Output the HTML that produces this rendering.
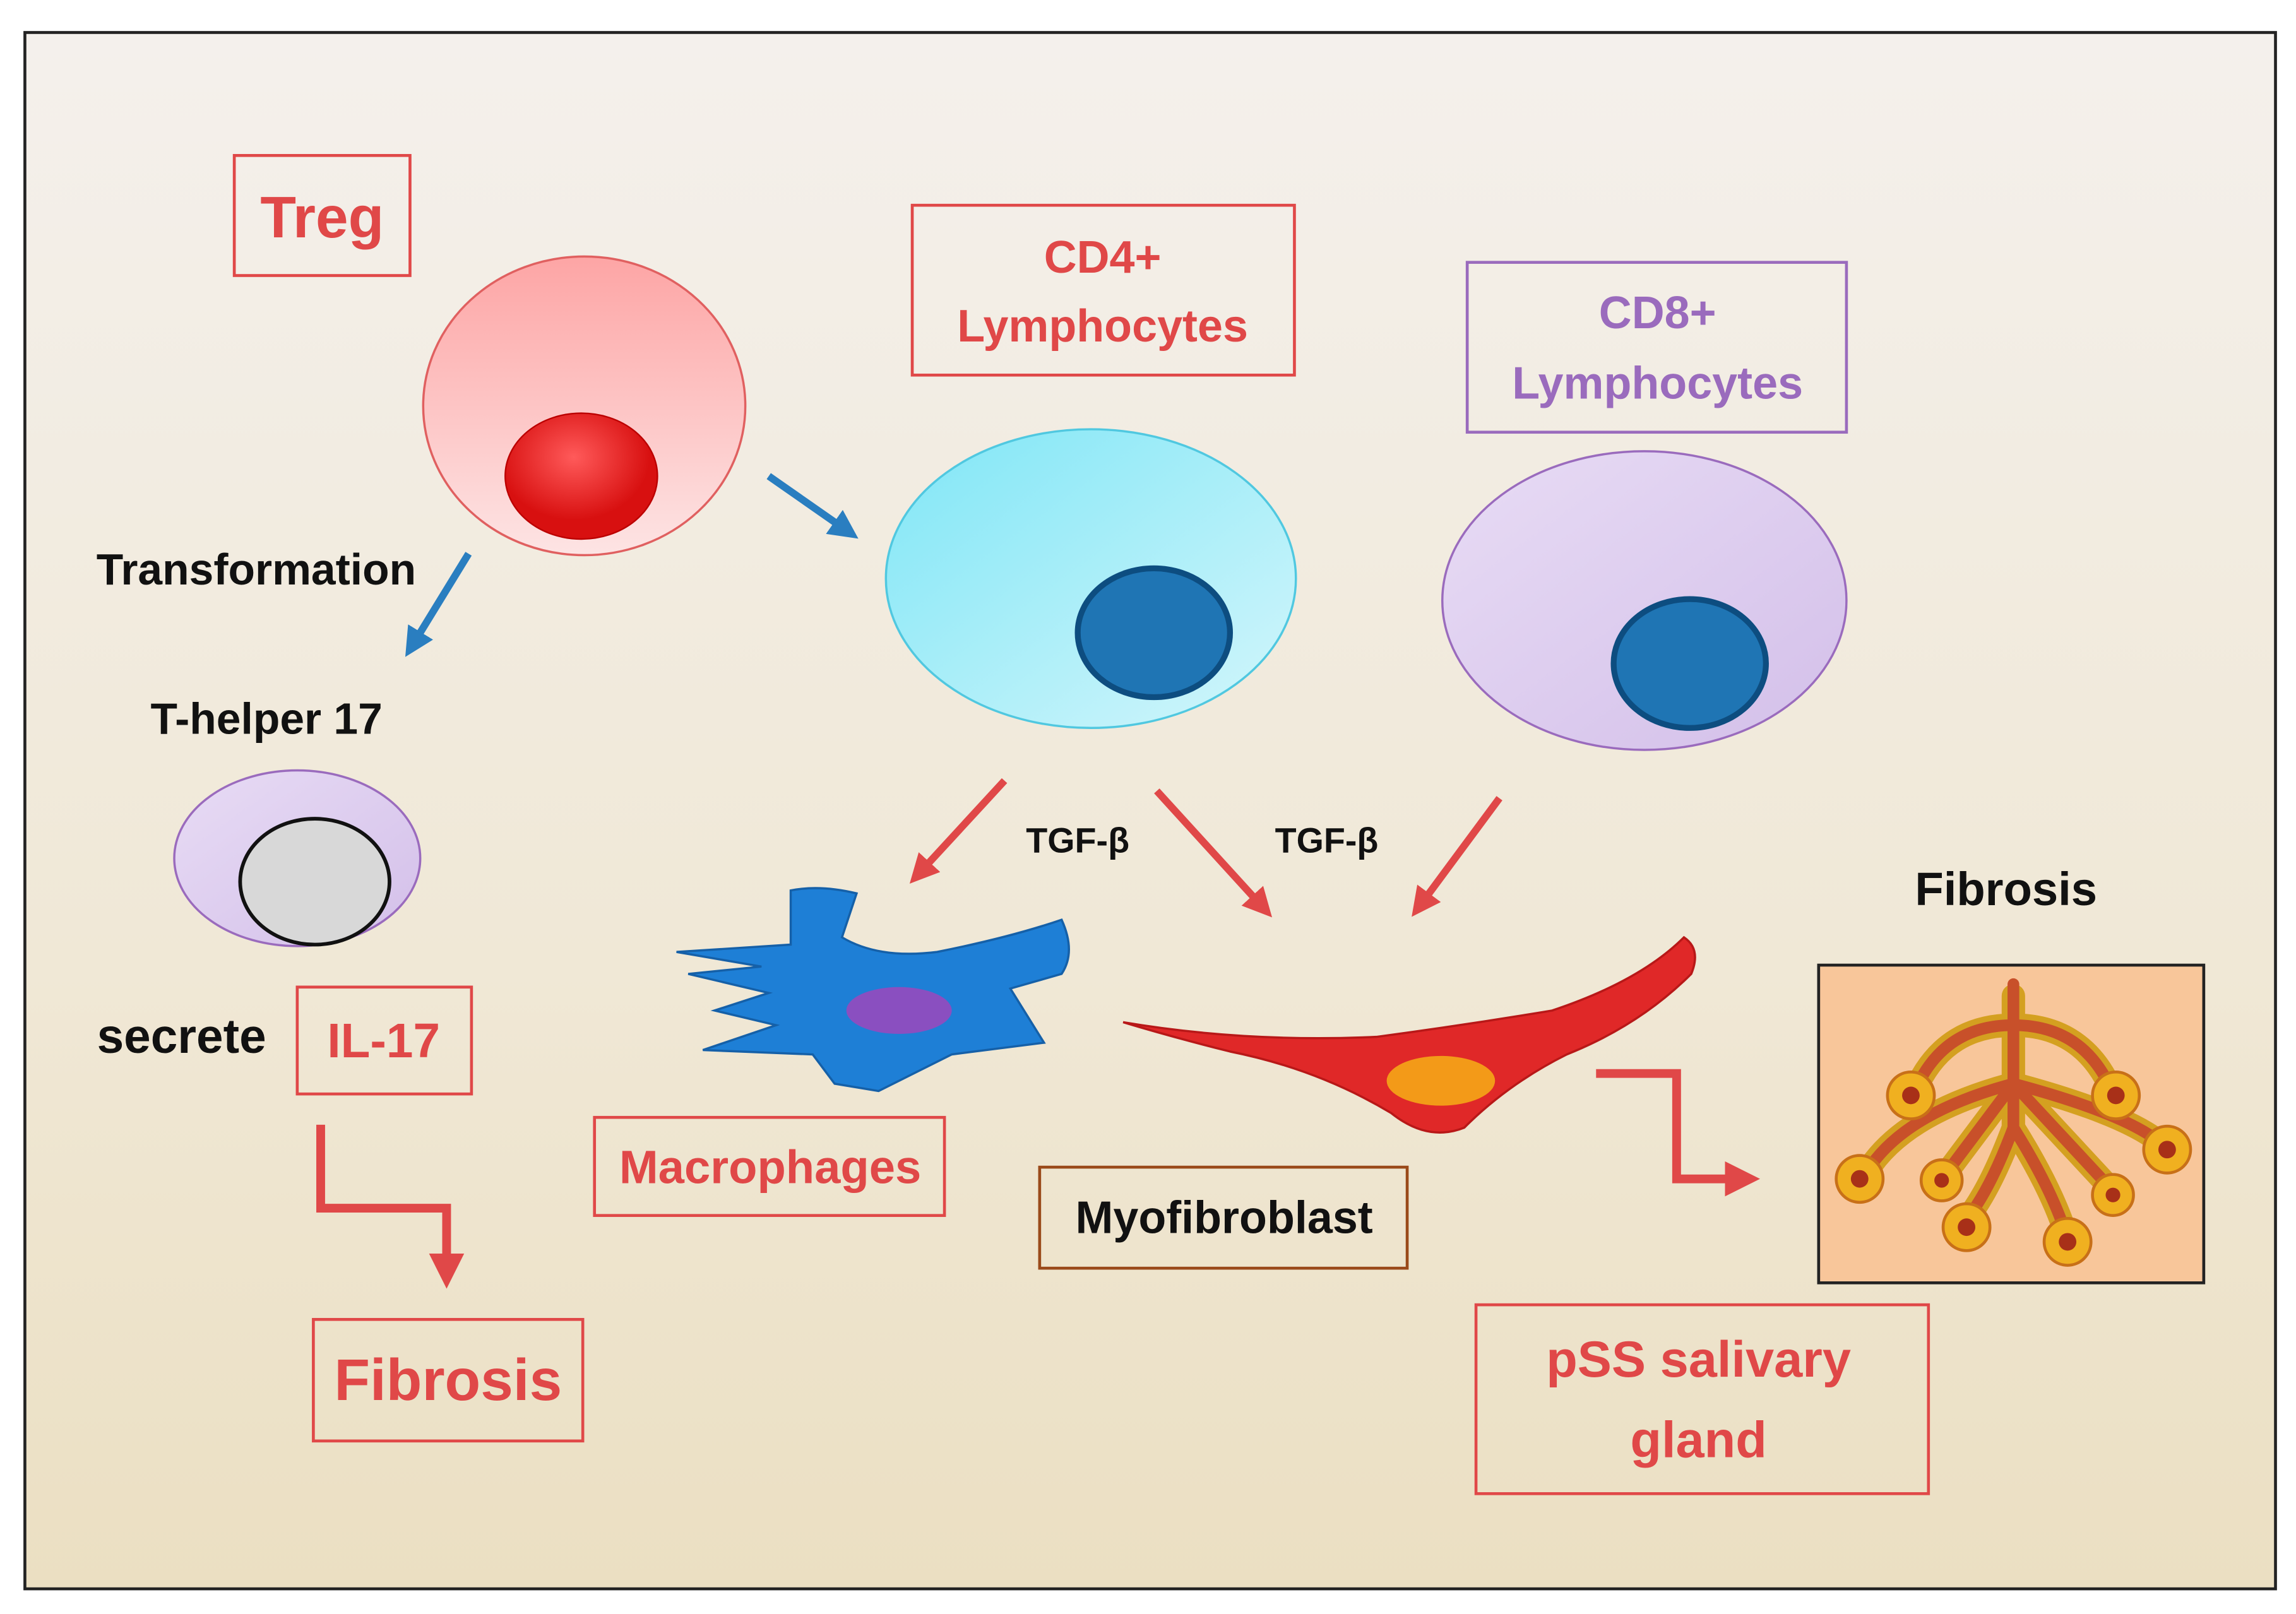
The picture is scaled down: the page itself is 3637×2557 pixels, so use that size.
<!DOCTYPE html>
<html><head><meta charset="utf-8"><style>
html,body{margin:0;padding:0;background:#fff}
svg{display:block}
text{font-family:"Liberation Sans",sans-serif}
</style></head><body>
<svg width="3637" height="2557" viewBox="0 0 1568 1102" xmlns="http://www.w3.org/2000/svg">
<defs>
<linearGradient id="bg" x1="0" y1="0" x2="0" y2="1">
<stop offset="0" stop-color="#f4f0ec"/><stop offset="0.6" stop-color="#f0e8d6"/><stop offset="1" stop-color="#ebdfc2"/></linearGradient>
<linearGradient id="pink" x1="0" y1="0" x2="0" y2="1"><stop offset="0" stop-color="#fda5a5"/><stop offset="1" stop-color="#fde4e4"/></linearGradient>
<linearGradient id="cyan" x1="0" y1="0" x2="1" y2="1"><stop offset="0" stop-color="#7fe6f6"/><stop offset="1" stop-color="#d4f6fb"/></linearGradient>
<linearGradient id="lav" x1="0" y1="0" x2="1" y2="1"><stop offset="0" stop-color="#e8dcf5"/><stop offset="1" stop-color="#d3bfe9"/></linearGradient>
<radialGradient id="red" cx="0.45" cy="0.35"><stop offset="0" stop-color="#ff5a5a"/><stop offset="1" stop-color="#d81010"/></radialGradient>
<marker id="ab" markerWidth="4" markerHeight="4" refX="2" refY="2" orient="auto"><path d="M0,0 L4,2 L0,4z" fill="#2a7ec0"/></marker>
<marker id="ar" markerWidth="4" markerHeight="4" refX="2" refY="2" orient="auto"><path d="M0,0 L4,2 L0,4z" fill="#e04848"/></marker>
</defs>
<rect width="1568" height="1102" fill="#fff"/>
<rect x="17" y="22" width="1537" height="1063" fill="url(#bg)" stroke="#222" stroke-width="2"/>

<g fill="none" stroke-width="2">
<rect x="160" y="106" width="120" height="82" stroke="#e04848"/>
<rect x="623" y="140" width="261" height="116" stroke="#e04848"/>
<rect x="1002" y="179" width="259" height="116" stroke="#9a6bbd"/>
<rect x="203" y="674" width="119" height="73" stroke="#e04848"/>
<rect x="214" y="901" width="184" height="83" stroke="#e04848"/>
<rect x="406" y="763" width="239" height="67" stroke="#e04848"/>
<rect x="710" y="797" width="251" height="69" stroke="#9a4a1a"/>
<rect x="1008" y="891" width="309" height="129" stroke="#e04848"/>
</g>

<g font-weight="bold" text-anchor="middle">
<text x="220" y="162" font-size="40" fill="#e04848">Treg</text>
<text x="753" y="186" font-size="31" fill="#e04848">CD4+</text>
<text x="753" y="233" font-size="31" fill="#e04848">Lymphocytes</text>
<text x="1132" y="224" font-size="31" fill="#9a6bbd">CD8+</text>
<text x="1132" y="272" font-size="31" fill="#9a6bbd">Lymphocytes</text>
<text x="175" y="399" font-size="30" fill="#111">Transformation</text>
<text x="182" y="501" font-size="30" fill="#111">T-helper 17</text>
<text x="124" y="719" font-size="33" fill="#111">secrete</text>
<text x="262" y="722" font-size="33" fill="#e04848">IL-17</text>
<text x="306" y="956" font-size="40" fill="#e04848">Fibrosis</text>
<text x="736" y="582" font-size="24" fill="#111">TGF-β</text>
<text x="906" y="582" font-size="24" fill="#111">TGF-β</text>
<text x="526" y="808" font-size="32" fill="#e04848">Macrophages</text>
<text x="836" y="842" font-size="31" fill="#111">Myofibroblast</text>
<text x="1370" y="618" font-size="32" fill="#111">Fibrosis</text>
<text x="1160" y="940" font-size="35" fill="#e04848">pSS salivary</text>
<text x="1160" y="995" font-size="35" fill="#e04848">gland</text>
</g>

<!-- cells -->
<ellipse cx="399" cy="277" rx="110" ry="102" fill="url(#pink)" stroke="#e06060" stroke-width="1.5"/>
<ellipse cx="397" cy="325" rx="52" ry="43" fill="url(#red)" stroke="#b00" stroke-width="1"/>
<ellipse cx="745" cy="395" rx="140" ry="102" fill="url(#cyan)" stroke="#50c8e0" stroke-width="1.5"/>
<ellipse cx="788" cy="432" rx="52" ry="44" fill="#1f75b4" stroke="#0d4d80" stroke-width="4"/>
<ellipse cx="1123" cy="410" rx="138" ry="102" fill="url(#lav)" stroke="#9a6bbd" stroke-width="1.5"/>
<ellipse cx="1154" cy="453" rx="52" ry="44" fill="#1f75b4" stroke="#0d4d80" stroke-width="4"/>
<ellipse cx="203" cy="586" rx="84" ry="60" fill="url(#lav)" stroke="#9a6bbd" stroke-width="1.5"/>
<ellipse cx="215" cy="602" rx="51" ry="43" fill="#d8d8d8" stroke="#111" stroke-width="2.5"/>

<!-- arrows -->
<g stroke-width="5" fill="none">
<line x1="525" y1="325" x2="578" y2="362" stroke="#2a7ec0" marker-end="url(#ab)"/>
<line x1="320" y1="378" x2="282" y2="440" stroke="#2a7ec0" marker-end="url(#ab)"/>
<line x1="686" y1="533" x2="628" y2="596" stroke="#e04848" marker-end="url(#ar)"/>
<line x1="790" y1="540" x2="862" y2="619" stroke="#e04848" marker-end="url(#ar)"/>
<line x1="1024" y1="545" x2="970" y2="618" stroke="#e04848" marker-end="url(#ar)"/>
<polyline points="219,768 219,825 305,825 305,868" stroke="#e04848" stroke-width="6" marker-end="url(#ar)"/>
<polyline points="1090,733 1145,733 1145,805 1190,805" stroke="#e04848" stroke-width="6" marker-end="url(#ar)"/>
</g>

<!-- macrophage -->
<path d="M540,608 Q560,604 585,610 L575,640 Q600,655 640,650 Q690,640 725,628 Q735,650 725,665 L690,675 L713,712 L650,720 Q620,735 600,745 L570,740 L555,720 L480,717 L530,700 L488,690 L525,678 L470,665 L520,660 L462,650 L540,645 Z" fill="#1e7fd6" stroke="#1560a8" stroke-width="1.5"/>
<ellipse cx="614" cy="690" rx="36" ry="16" fill="#8a4fc0"/>

<!-- myofibroblast -->
<path d="M767,698 Q850,712 940,708 Q1000,700 1060,690 Q1120,670 1150,640 Q1162,648 1155,665 Q1120,700 1070,720 Q1030,740 1000,770 Q975,780 950,760 Q900,730 840,718 Q800,708 767,698 Z" fill="#e02828" stroke="#b81818" stroke-width="1.5"/>
<ellipse cx="984" cy="738" rx="37" ry="17" fill="#f39a18"/>

<!-- gland -->
<rect x="1242" y="659" width="263" height="217" fill="#f8c69a" stroke="#222" stroke-width="2"/>
<g fill="none" stroke-linecap="round">
<g stroke="#d4a020" stroke-width="16">
<path d="M1375,680 L1375,770 M1375,700 Q1330,700 1310,740 M1375,700 Q1420,700 1440,740 M1375,740 Q1300,760 1275,800 M1375,740 Q1450,760 1475,780 M1375,770 Q1360,810 1345,830 M1375,770 Q1400,810 1410,840 M1375,740 L1330,800 M1375,740 L1440,810"/>
</g>
<g stroke="#c8502a" stroke-width="8">
<path d="M1375,672 L1375,770 M1375,700 Q1330,700 1310,740 M1375,700 Q1420,700 1440,740 M1375,740 Q1300,760 1275,800 M1375,740 Q1450,760 1475,780 M1375,770 Q1360,810 1345,830 M1375,770 Q1400,810 1410,840 M1375,740 L1330,800 M1375,740 L1440,810"/>
</g>
</g>
<g fill="#f0b020" stroke="#c87018" stroke-width="2">
<circle cx="1305" cy="748" r="16"/><circle cx="1445" cy="748" r="16"/>
<circle cx="1270" cy="805" r="16"/><circle cx="1480" cy="785" r="16"/>
<circle cx="1343" cy="838" r="16"/><circle cx="1412" cy="848" r="16"/>
<circle cx="1326" cy="806" r="14"/><circle cx="1443" cy="816" r="14"/>
</g>
<g fill="#a83018">
<circle cx="1305" cy="748" r="6"/><circle cx="1445" cy="748" r="6"/>
<circle cx="1270" cy="805" r="6"/><circle cx="1480" cy="785" r="6"/>
<circle cx="1343" cy="838" r="6"/><circle cx="1412" cy="848" r="6"/>
<circle cx="1326" cy="806" r="5"/><circle cx="1443" cy="816" r="5"/>
</g>
</svg>
</body></html>
